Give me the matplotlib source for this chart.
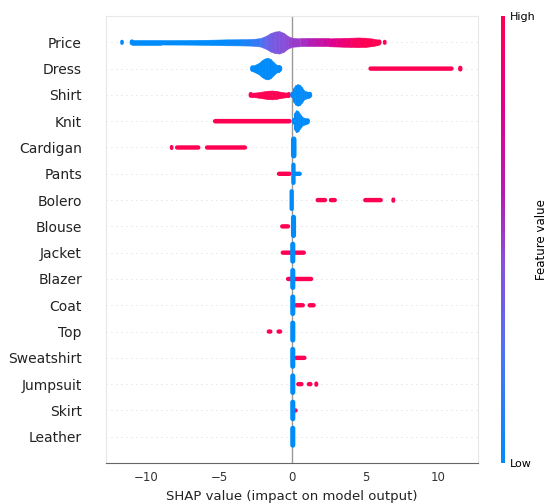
#!/usr/bin/env python3
"""SHAP beeswarm summary for the garment-category model."""

import matplotlib

matplotlib.use("Agg")
import matplotlib.pyplot as plt
from matplotlib.colors import LinearSegmentedColormap, Normalize
from matplotlib.colorbar import ColorbarBase

# features, top to bottom
features = [
    "Price", "Dress", "Shirt", "Knit", "Cardigan", "Pants", "Bolero", "Blouse",
    "Jacket", "Blazer", "Coat", "Top", "Sweatshirt", "Jumpsuit", "Skirt", "Leather",
]

# dense swarms as profiles: shap value, how many dots
# the swarm piles up there, and the feature value (0 low .. 1 high)
price_x = [-11.15, -9.0, -7.0, -5.5, -4.5, -3.5, -2.8, -2.2, -1.8, -1.5, -1.2, -0.9,
           -0.6, -0.3, 0.0, 0.5, 1.0, 1.5, 2.0, 2.5, 3.0, 3.5, 4.0, 4.5, 5.0, 5.5,
           5.8, 6.1]
price_stack = [1.0, 1.0, 1.05, 1.2, 1.35, 1.4, 1.5, 1.9, 3.0, 4.2, 4.9, 5.1,
               4.3, 2.8, 2.0, 1.8, 1.8, 1.8, 1.8, 1.8, 1.9, 2.0, 2.1, 2.2, 2.1, 1.7,
               1.3, 1.0]
price_value = [0.0, 0.0, 0.0, 0.0, 0.02, 0.06, 0.12, 0.22, 0.32, 0.38, 0.4, 0.42,
               0.44, 0.47, 0.5, 0.53, 0.57, 0.62, 0.68, 0.75, 0.82, 0.88, 0.93, 0.97,
               1.0, 1.0, 1.0, 1.0]

dress_low_x = [-2.9, -2.6, -2.3, -2.1, -1.9, -1.7, -1.5, -1.3, -1.1, -0.9, -0.7]
dress_low_stack = [1.2, 1.6, 2.6, 3.8, 4.6, 4.9, 4.4, 3.0, 1.8, 1.5, 1.2]

shirt_low_x = [-0.15, 0.05, 0.2, 0.35, 0.5, 0.65, 0.8, 0.95, 1.1, 1.35]
shirt_low_stack = [1.2, 3.0, 4.4, 4.9, 4.6, 3.5, 2.0, 1.6, 1.4, 1.1]
shirt_high_x = [-3.0, -2.5, -2.1, -1.7, -1.4, -1.1, -0.8, -0.5, -0.1]
shirt_high_stack = [1.0, 1.1, 1.5, 1.9, 2.0, 1.8, 1.4, 1.1, 1.0]

knit_low_x = [-0.05, 0.1, 0.25, 0.4, 0.55, 0.7, 0.9, 1.2]
knit_low_stack = [1.3, 3.5, 5.0, 4.6, 3.0, 1.8, 1.4, 1.0]

# sparse clusters: (shap low, shap high, dots piled up, feature value)
price = [(-11.8, -11.55, 1.0, 0.0), (6.2, 6.45, 1.0, 1.0)]
dress = [(5.2, 11.05, 1.0, 1.0), (11.35, 11.65, 1.0, 1.0)]
shirt = []
knit = [(-5.45, -0.05, 1.05, 1.0)]
cardigan = [(-8.4, -8.15, 1.0, 1.0), (-8.05, -6.3, 1.0, 1.0), (-6.0, -3.1, 1.0, 1.0),
            (-0.1, 0.28, 5.0, 0.0)]
pants = [(-1.07, -0.05, 1.0, 1.0), (-0.05, 0.65, 1.0, 0.0), (-0.08, 0.22, 5.1, 0.0)]
bolero = [(1.58, 2.38, 1.0, 1.0), (2.49, 3.05, 1.0, 1.0), (4.84, 6.2, 1.0, 1.0),
          (6.78, 7.05, 1.0, 1.0), (-0.2, 0.1, 5.0, 0.0)]
blouse = [(-0.85, -0.15, 1.0, 1.0), (-0.1, 0.25, 5.3, 0.0)]
jacket = [(-0.81, 0.93, 1.0, 1.0), (-0.15, 0.2, 5.0, 0.0)]
blazer = [(-0.45, 1.43, 1.0, 1.0), (-0.15, 0.2, 5.0, 0.0)]
coat = [(0.1, 0.86, 1.0, 1.0), (1.03, 1.6, 1.0, 1.0), (-0.15, 0.2, 4.9, 0.0)]
top = [(-1.73, -1.4, 1.0, 1.0), (-1.07, -0.72, 1.0, 1.0), (-0.15, 0.2, 5.0, 0.0)]
sweatshirt = [(0.12, 0.97, 1.0, 1.0), (-0.15, 0.2, 5.0, 0.0)]
jumpsuit = [(0.25, 0.77, 1.0, 1.0), (1.0, 1.36, 1.0, 1.0), (1.5, 1.77, 1.0, 1.0),
            (-0.15, 0.2, 4.9, 0.0)]
skirt = [(0.0, 0.33, 1.0, 1.0), (-0.15, 0.2, 4.9, 0.0)]
leather = [(-0.15, 0.2, 5.0, 0.0)]

clusters = [
    price, dress, shirt, knit, cardigan, pants, bolero, blouse,
    jacket, blazer, coat, top, sweatshirt, jumpsuit, skirt, leather,
]

xticks = [-10, -5, 0, 5, 10]

DPI = 100
DOT_PX = 4.4
MIN_PX = 1.5


def capsule(ax, x0, x1, y0, y1, width_px, color):
    ax.plot([x0, x1], [y0, y1], color=color, lw=width_px * 72 / DPI,
            solid_capstyle="round", snap=False, zorder=3)


def draw_cluster(ax, y, lo, hi, stack, value, cmap, px_x, px_y):
    """One cluster of piled-up dots, drawn as a rounded capsule."""
    color = cmap(value)
    h_px = stack * DOT_PX
    w_px = (hi - lo) * px_x
    xc = (lo + hi) / 2
    if w_px >= h_px:
        half = max((hi - lo) / 2 - h_px / 2 / px_x, MIN_PX / 2 / px_x)
        capsule(ax, xc - half, xc + half, y, y, h_px, color)
    else:
        r = max((h_px - w_px) / 2 / px_y, MIN_PX / 2 / px_y)
        capsule(ax, xc, xc, y - r, y + r, w_px, color)


def draw_profile(ax, y, xs, stacks, values, cmap, px_x, px_y):
    """A dense swarm: filled outline with rounded ends."""
    halves = [s * DOT_PX / 2 / px_y for s in stacks]
    xs = list(xs)
    # ends are round, so pull the straight part in by the end radius
    xs[0] += stacks[0] * DOT_PX / 2 / px_x
    xs[-1] -= stacks[-1] * DOT_PX / 2 / px_x
    for i in range(len(xs) - 1):
        c = cmap((values[i] + values[i + 1]) / 2)
        ax.fill_between(xs[i:i + 2], [y - halves[i], y - halves[i + 1]],
                        [y + halves[i], y + halves[i + 1]], color=c, lw=0.4,
                        zorder=3)
    dy = MIN_PX / 2 / px_y
    for x, s, v in ((xs[0], stacks[0], values[0]), (xs[-1], stacks[-1], values[-1])):
        capsule(ax, x, x, y - dy, y + dy, s * DOT_PX, cmap(v))


def main() -> None:
    cmap = LinearSegmentedColormap.from_list(
        "shap_red_blue",
        [(0.0, "#008bfb"), (0.25, "#4f72f2"), (0.45, "#8a4fd9"),
         (0.6, "#b41cb5"), (0.8, "#e0008a"), (1.0, "#ff0052")],
    )

    fig = plt.figure(figsize=(5.5, 5.04), dpi=DPI)
    pos = [0.192, 0.0813, 0.6767, 0.8869]
    ax = fig.add_axes(pos)
    xlim = (-12.8, 12.7)
    n = len(features)
    ylim = (-1, n)
    ax.set_xlim(*xlim)
    ax.set_ylim(*ylim)
    px_x = pos[2] * 5.5 * DPI / (xlim[1] - xlim[0])
    px_y = pos[3] * 5.04 * DPI / (ylim[1] - ylim[0])
    row = {name: n - 1 - i for i, name in enumerate(features)}

    ax.axvline(0, color="#999999", lw=1.0, zorder=1)
    for name in features:
        ax.axhline(row[name], color="#cccccc", lw=0.6, dashes=(1, 5), zorder=0)

    low = [0.0] * 16
    high = [1.0] * 16
    draw_profile(ax, row["Price"], price_x, price_stack, price_value, cmap, px_x, px_y)
    draw_profile(ax, row["Dress"], dress_low_x, dress_low_stack,
                 low[:len(dress_low_x)], cmap, px_x, px_y)
    draw_profile(ax, row["Shirt"], shirt_high_x, shirt_high_stack,
                 high[:len(shirt_high_x)], cmap, px_x, px_y)
    draw_profile(ax, row["Shirt"], shirt_low_x, shirt_low_stack,
                 low[:len(shirt_low_x)], cmap, px_x, px_y)
    for name, cl in zip(features, clusters):
        for lo, hi, stack, value in cl:
            draw_cluster(ax, row[name], lo, hi, stack, value, cmap, px_x, px_y)
    draw_profile(ax, row["Knit"], knit_low_x, knit_low_stack,
                 low[:len(knit_low_x)], cmap, px_x, px_y)

    ax.set_yticks([row[name] for name in features])
    ax.set_yticklabels(features, fontsize=10, color="#222222")
    ax.tick_params("y", length=0, pad=17)
    ax.set_xticks(xticks)
    ax.set_xticklabels([f"\u2212{abs(t)}" if t < 0 else str(t) for t in xticks])
    ax.tick_params("x", length=0, pad=6, labelsize=8.5, labelcolor="#333333")
    ax.set_xlabel("SHAP value (impact on model output)", fontsize=9.5, color="#222222")
    for side in ("left", "top", "right"):
        ax.spines[side].set_color("#e8e8e8")
        ax.spines[side].set_linewidth(0.8)
    ax.spines["bottom"].set_color("#666666")

    cax = fig.add_axes([0.9105, 0.0813, 0.0084, 0.8869])
    cb = ColorbarBase(cax, cmap=cmap, norm=Normalize(0, 1), ticks=[0, 1])
    cb.outline.set_visible(False)
    cb.set_ticklabels(["Low", "High"])
    cax.tick_params(length=0, labelsize=8, pad=3)
    cb.set_label("Feature value", fontsize=8.5, labelpad=0)

    fig.savefig("out.png", dpi=DPI)


if __name__ == "__main__":
    main()
